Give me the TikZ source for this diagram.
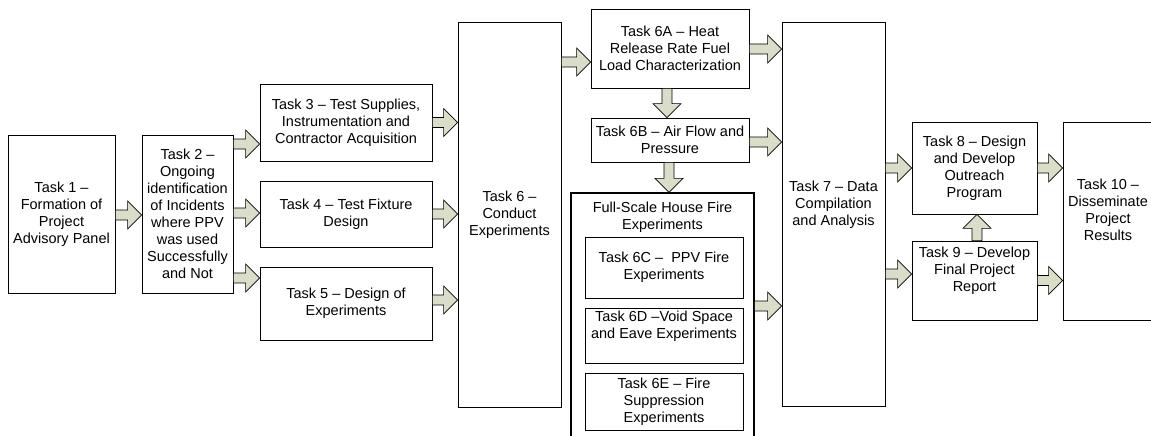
\documentclass[tikz,border=0pt]{standalone}
\usepackage{fontspec}
\setmainfont{Liberation Sans}
\usetikzlibrary{calc}

\definecolor{arrowfill}{RGB}{218,222,201}

% block arrow from #1 to #2 (tip at #2)
\newcommand{\blockarrow}[2]{%
  \coordinate (bs) at (#1);
  \coordinate (be) at (#2);
  \coordinate (bh) at ($(be)!14pt!(bs)$);
  \draw[blockarrow] ($(bs)!5pt!90:(be)$) -- ($(bh)!5pt!90:(be)$) -- ($(bh)!14pt!90:(be)$) -- (be)
    -- ($(bh)!14pt!-90:(be)$) -- ($(bh)!5pt!-90:(be)$) -- ($(bs)!5pt!-90:(be)$) -- cycle;
}

\begin{document}
\begin{tikzpicture}[x=1pt, y=-1pt,
    task/.style={draw, line width=0.8pt, inner sep=2pt, align=center, font=\fontsize{14.5}{17}\selectfont},
    blockarrow/.style={draw, line width=0.6pt, fill=arrowfill, line join=miter}]
  \clip (0,0) rectangle (1151,436);
  %
  \node[task, minimum width=107pt, minimum height=158pt] (t1) at (61.5,214) {Task 1 –\\Formation of\\Project\\Advisory Panel};
  \node[task, minimum width=91pt, minimum height=158pt] (t2) at (187.5,214) {Task 2 –\\Ongoing\\identification\\of Incidents\\where PPV\\was used\\Successfully\\and Not};
  \node[task, minimum width=172pt, minimum height=77pt] (t3) at (346,122.5) {Task 3 – Test Supplies,\\Instrumentation and\\Contractor Acquisition};
  \node[task, minimum width=172pt, minimum height=66pt] (t4) at (346,214) {Task 4 – Test Fixture\\Design};
  \node[task, minimum width=172pt, minimum height=73pt] (t5) at (346,303.5) {Task 5 – Design of\\Experiments};
  \node[task, minimum width=103pt, minimum height=385pt] (t6) at (509.5,214.5) {Task 6 –\\Conduct\\Experiments};
  \node[task, minimum width=158pt, minimum height=79pt] (t6a) at (670,48.5) {Task 6A – Heat\\Release Rate Fuel\\Load Characterization};
  \node[task, minimum width=158pt, minimum height=44pt] (t6b) at (670,140) {Task 6B – Air Flow and\\Pressure};
  %
  \node[task, line width=1.3pt, minimum width=183pt, minimum height=252pt] (house) at (662.5,319) {};
  \node[task, draw=none, anchor=north, yshift=-7pt] (houset) at (house.north) {Full-Scale House Fire\\Experiments};
  \node[task, minimum width=158pt, minimum height=61pt] (t6c) at (664,267.5) {Task 6C – \ PPV Fire\\Experiments};
  \node[task, minimum width=158pt, minimum height=55pt] (t6d) at (664,335.5) {Task 6D –Void Space\\and Eave Experiments\\ \strut};
  \node[task, minimum width=158pt, minimum height=57pt] (t6e) at (664,401.5) {Task 6E – Fire\\Suppression\\Experiments};
  %
  \node[task, minimum width=103pt, minimum height=384pt] (t7) at (833.5,214) {Task 7 – Data\\Compilation\\and Analysis\\ \strut};
  \node[task, minimum width=125pt, minimum height=92pt] (t8) at (974.5,168) {Task 8 – Design\\and Develop\\Outreach\\Program};
  \node[task, minimum width=125pt, minimum height=79pt] (t9) at (974.5,280.5) {Task 9 – Develop\\Final Project\\Report\\ \strut};
  \node[task, minimum width=90pt, minimum height=198pt] (t10) at (1108,221) {Task 10 –\\Disseminate\\Project\\Results\\ \strut};
  %
  \blockarrow{t1.east |- 0,215}{t2.west |- 0,215}
  \blockarrow{t2.east |- 0,144}{t3.west |- 0,144}
  \blockarrow{t2.east |- 0,213}{t4.west |- 0,213}
  \blockarrow{t2.east |- 0,278}{t5.west |- 0,278}
  \blockarrow{t3.east}{t6.west |- t3.east}
  \blockarrow{t4.east}{t6.west |- t4.east}
  \blockarrow{t5.east |- 0,300}{t6.west |- 0,300}
  \blockarrow{t6.east |- 0,62}{t6a.west |- 0,62}
  \blockarrow{t6a.south -| 667,0}{t6b.north -| 667,0}
  \blockarrow{t6b.south -| 669,0}{house.north -| 669,0}
  %
  \blockarrow{t6a.east |- 0,49}{t7.west |- 0,49}
  \blockarrow{t6b.east |- 0,142}{t7.west |- 0,142}
  \blockarrow{house.east |- 0,306}{t7.west |- 0,306}
  \blockarrow{t7.east |- t8.west}{t8.west}
  \blockarrow{t7.east |- 0,274}{t9.west |- 0,274}
  \blockarrow{t9.north -| 977,0}{t8.south -| 977,0}
  \blockarrow{t8.east}{t10.west |- t8.east}
  \blockarrow{t9.east}{t10.west |- t9.east}
\end{tikzpicture}
\end{document}
